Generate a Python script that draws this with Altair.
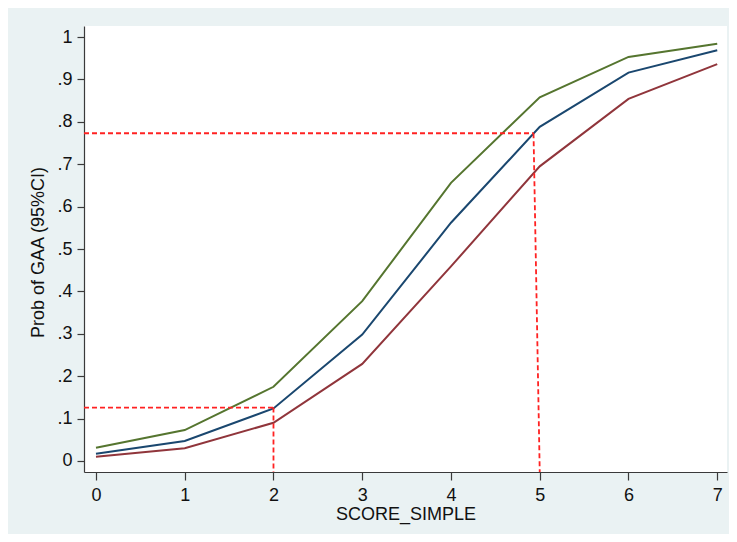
import altair as alt
import pandas as pd

# ---- data ----
score = [0, 1, 2, 3, 4, 5, 6, 7]
upper = [0.031, 0.073, 0.175, 0.377, 0.656, 0.858, 0.953, 0.984]
estimate = [0.017, 0.047, 0.124, 0.298, 0.562, 0.788, 0.916, 0.969]
lower = [0.010, 0.030, 0.090, 0.229, 0.459, 0.695, 0.854, 0.936]

series_names = ["upper", "estimate", "lower"]
series_colors = ["#55752f", "#1a476f", "#90353b"]

y_ticks = [0, 0.1, 0.2, 0.3, 0.4, 0.5, 0.6, 0.7, 0.8, 0.9, 1]
x_ticks = [0, 1, 2, 3, 4, 5, 6, 7]

x_domain = [-0.135, 7.11]
y_domain = [-0.026, 1.026]

# reference (dashed) segments: start x, start y, end x, end y
ref_x1 = [x_domain[0], 2.0, x_domain[0], 4.93]
ref_y1 = [0.126, 0.126, 0.773, 0.773]
ref_x2 = [2.0, 2.0, 4.93, 5.0]
ref_y2 = [0.126, y_domain[0], 0.773, y_domain[0]]

rows = []
for name, vals in zip(series_names, [upper, estimate, lower]):
    for s, v in zip(score, vals):
        rows.append({"score": s, "prob": v, "series": name})
df = pd.DataFrame(rows)

ref = pd.DataFrame({"x1": ref_x1, "y1": ref_y1, "x2": ref_x2, "y2": ref_y2})

FONT = "Liberation Sans"

x_scale = alt.Scale(domain=x_domain, nice=False, zero=False)
y_scale = alt.Scale(domain=y_domain, nice=False, zero=False)

lines = alt.Chart(df).mark_line(strokeWidth=2, clip=True).encode(
    x=alt.X("score:Q", scale=x_scale,
            axis=alt.Axis(title="SCORE_SIMPLE", values=x_ticks, format="d",
                          grid=False, tickSize=8, labelPadding=6,
                          titleY=47, titleBaseline="alphabetic")),
    y=alt.Y("prob:Q", scale=y_scale,
            axis=alt.Axis(title="Prob of GAA (95%CI)", values=y_ticks, grid=False,
                          tickSize=7, labelPadding=5,
                          labelExpr="datum.value == 0 ? '0' : (datum.value == 1 ? '1' : replace(format(datum.value, '.1f'), '0.', '.'))",
                          titleAngle=-90, titleBaseline="middle", titleAlign="center",
                          titleX=-46, titleY=226)),
    color=alt.Color("series:N", scale=alt.Scale(domain=series_names, range=series_colors),
                    legend=None),
    detail="series:N",
)

refs = alt.Chart(ref).mark_rule(color="#ff2222", strokeWidth=1.8, strokeDash=[5, 3], clip=True).encode(
    x=alt.X("x1:Q", scale=x_scale),
    y=alt.Y("y1:Q", scale=y_scale),
    x2="x2:Q",
    y2="y2:Q",
)

chart = alt.layer(lines, refs).properties(
    width=643, height=446,
    padding={"left": 76, "top": 18, "right": 2, "bottom": 62},
    autosize="none",
    background="#eaf2f3",
).configure_view(
    fill="white", strokeWidth=0
).configure_axis(
    labelFont=FONT, titleFont=FONT, labelFontSize=18, titleFontSize=18,
    labelColor="#111111", titleColor="#111111", titleFontWeight="normal",
    domainColor="#3a3a3a", tickColor="#3a3a3a", domainWidth=1.2, tickWidth=1.2,
)

chart.save("out.html", embed_options={"renderer": "svg", "actions": False})
